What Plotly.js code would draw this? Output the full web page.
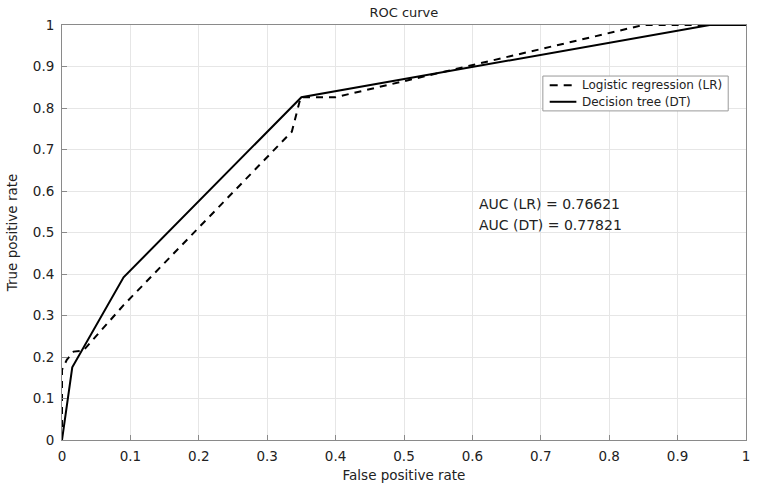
<!DOCTYPE html>
<html><head><meta charset="utf-8">
<script src="https://cdn.plot.ly/plotly-3.0.1.min.js"></script>
<style>html,body{margin:0;padding:0;background:#fff}#c{width:762px;height:491px}</style>
</head><body><div id="c"></div>
<script>
const lrX = [0, 0, 0.007, 0.017, 0.031, 0.09, 0.336, 0.349, 0.40, 0.85, 1];
const lrY = [0, 0.169, 0.193, 0.213, 0.215, 0.325, 0.743, 0.826, 0.826, 1, 1];
const dtX = [0, 0.015, 0.09, 0.35, 0.947, 1];
const dtY = [0, 0.175, 0.392, 0.826, 1, 1];
const seriesNames = ['Logistic regression (LR)', 'Decision tree (DT)'];
const aucText = ['AUC (LR) = 0.76621', 'AUC (DT) = 0.77821'];
const tickVals = [0,0.1,0.2,0.3,0.4,0.5,0.6,0.7,0.8,0.9,1];
const tickText = ['0','0.1','0.2','0.3','0.4','0.5','0.6','0.7','0.8','0.9','1'];

const font = '"DejaVu Sans", Verdana, sans-serif';
const txt = '#222';
const dashLR = '7px,6px';
const traces = [
  {x: lrX, y: lrY, mode: 'lines', name: seriesNames[0], line: {color: '#000', width: 2, dash: dashLR}},
  {x: dtX, y: dtY, mode: 'lines', name: seriesNames[1], line: {color: '#000', width: 2}}
];
const axisCommon = {
  range: [0, 1], tickvals: tickVals, ticktext: tickText,
  showgrid: true, gridcolor: '#e6e6e6', gridwidth: 1,
  showline: true, linecolor: '#8a8a8a', linewidth: 1, mirror: true,
  ticks: 'inside', ticklen: 5, tickcolor: '#8a8a8a',
  zeroline: false, tickfont: {family: font, size: 13.5, color: txt}
};
// custom legend (paper coordinates of the plot area)
const lg = {x0: 0.703, x1: 0.974, y0: 0.793, y1: 0.877};
const rowY = [0.855, 0.815];
const shapes = [
  {type: 'rect', xref: 'paper', yref: 'paper', x0: lg.x0, x1: lg.x1, y0: lg.y0, y1: lg.y1,
   line: {color: '#999', width: 1}, fillcolor: '#fff', layer: 'above'},
  {type: 'line', xref: 'paper', yref: 'paper', x0: 0.713, x1: 0.752, y0: rowY[0], y1: rowY[0],
   line: {color: '#000', width: 2, dash: '8px,6px'}},
  {type: 'line', xref: 'paper', yref: 'paper', x0: 0.713, x1: 0.752, y0: rowY[1], y1: rowY[1],
   line: {color: '#000', width: 2}}
];
const annotations = [
  {x: 0.606, y: 0.569, xref: 'x', yref: 'y', text: aucText[0], showarrow: false, xanchor: 'left', yanchor: 'middle', font: {family: font, size: 14, color: txt}},
  {x: 0.606, y: 0.518, xref: 'x', yref: 'y', text: aucText[1], showarrow: false, xanchor: 'left', yanchor: 'middle', font: {family: font, size: 14, color: txt}},
  {x: 0.757, y: rowY[0], xref: 'paper', yref: 'paper', text: seriesNames[0], showarrow: false, xanchor: 'left', yanchor: 'middle', font: {family: font, size: 12, color: txt}},
  {x: 0.757, y: rowY[1], xref: 'paper', yref: 'paper', text: seriesNames[1], showarrow: false, xanchor: 'left', yanchor: 'middle', font: {family: font, size: 12, color: txt}}
];
const layout = {
  width: 762, height: 491,
  margin: {l: 62, r: 16, t: 25, b: 51},
  paper_bgcolor: '#fff', plot_bgcolor: '#fff',
  font: {family: font, color: txt},
  title: {text: 'ROC curve', x: 0.53, xanchor: 'center', y: 0.975, yanchor: 'middle', font: {family: font, size: 13, color: txt}},
  xaxis: Object.assign({}, axisCommon, {ticklabelstandoff: 4, title: {text: 'False positive rate', standoff: 7, font: {family: font, size: 13.5, color: txt}}}),
  yaxis: Object.assign({}, axisCommon, {ticklabelstandoff: 4, title: {text: 'True positive rate', standoff: 12, font: {family: font, size: 13.5, color: txt}}}),
  showlegend: false,
  shapes: shapes,
  annotations: annotations
};
Plotly.newPlot('c', traces, layout, {displayModeBar: false});
</script></body></html>
